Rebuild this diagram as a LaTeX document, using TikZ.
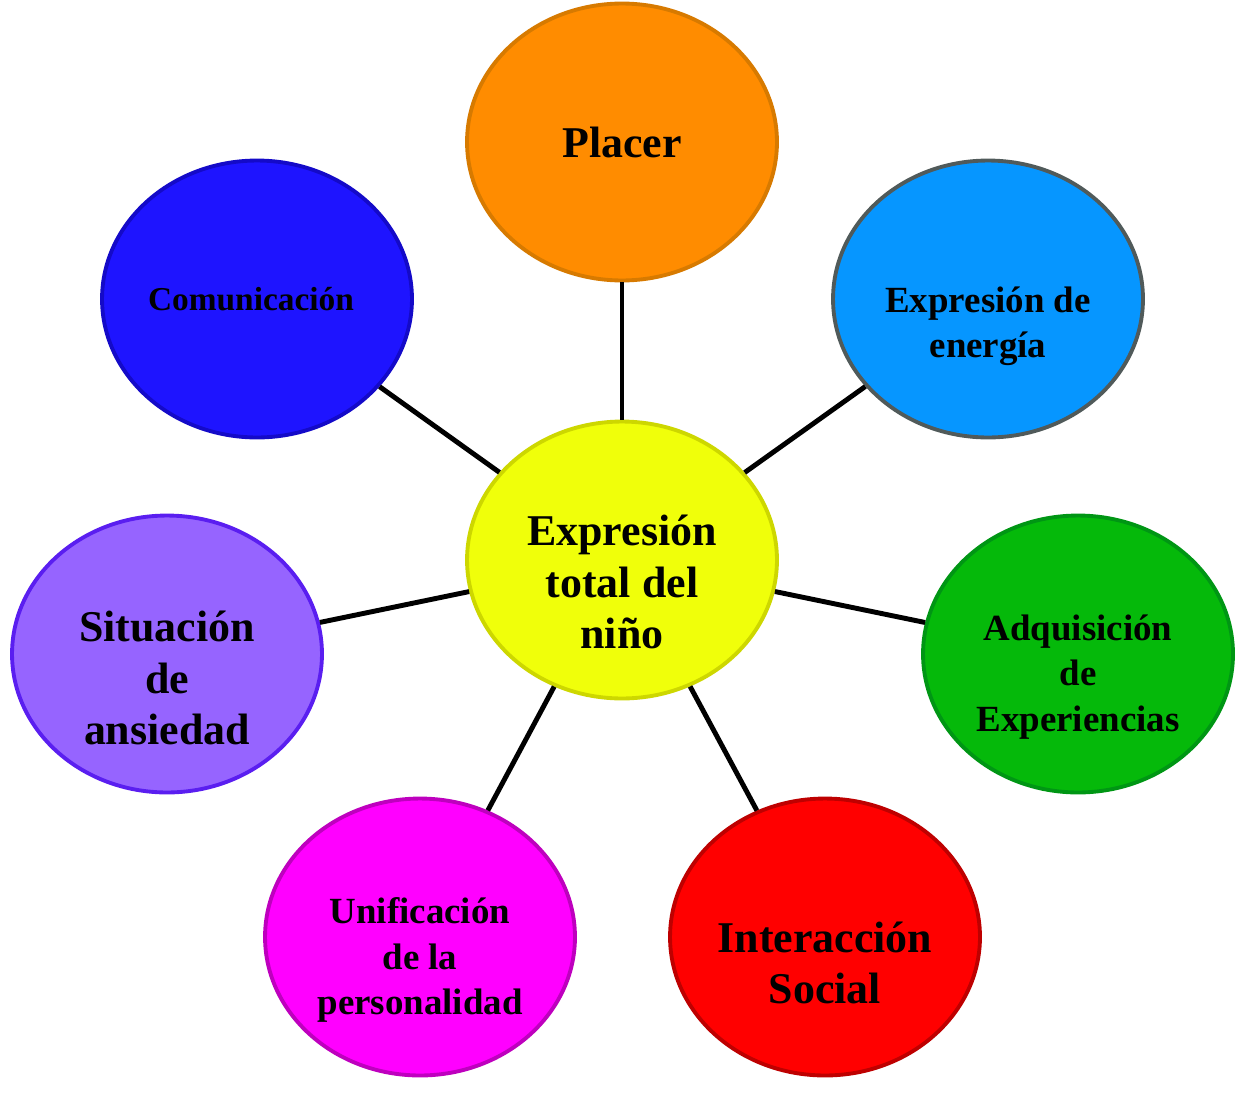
\documentclass[tikz,border=0pt]{standalone}
\usepackage{fontspec}
\setmainfont{Liberation Serif}
\usetikzlibrary{shapes.geometric}

\definecolor{placerfill}{RGB}{255,140,0}
\definecolor{placerline}{RGB}{215,122,0}
\definecolor{energyfill}{RGB}{6,150,255}
\definecolor{energyline}{RGB}{80,90,90}
\definecolor{commfill}{RGB}{30,20,255}
\definecolor{commline}{RGB}{20,10,200}
\definecolor{totalfill}{RGB}{240,255,10}
\definecolor{totalline}{RGB}{205,215,0}
\definecolor{anxfill}{RGB}{150,100,255}
\definecolor{anxline}{RGB}{90,30,240}
\definecolor{expfill}{RGB}{5,185,10}
\definecolor{expline}{RGB}{0,150,20}
\definecolor{unifill}{RGB}{255,0,255}
\definecolor{uniline}{RGB}{190,0,190}
\definecolor{socfill}{RGB}{255,0,0}
\definecolor{socline}{RGB}{190,0,0}

\begin{document}
\begin{tikzpicture}[
        x=0.02cm, y=-0.02cm,
        bubble/.style={ellipse, draw, line width=2.2pt, inner sep=0pt,
            minimum width=6.2cm, minimum height=5.54cm},
        txt/.style={align=center, inner sep=0pt},
        big/.style={font=\fontsize{25}{29.5}\selectfont\bfseries},
        mid/.style={font=\fontsize{21}{25.8}\selectfont\bfseries},
        link/.style={line width=2.8pt, black}
    ]

    \useasboundingbox (0,0) rectangle (1246,1119);

    \node[bubble, fill=totalfill, draw=totalline,
        label={[txt, big, yshift=-0.44cm]center:Expresión\\total del\\niño}] (total) at (622,560) {};
    \node[bubble, fill=placerfill, draw=placerline,
        label={[txt, big]center:Placer}] (placer) at (622,142) {};
    \node[bubble, fill=energyfill, draw=energyline,
        label={[txt, mid, yshift=-0.54cm]center:Expresión de\\energía}] (energy) at (988,299) {};
    \node[bubble, fill=commfill, draw=commline,
        label={[txt, xshift=-0.12cm, font=\fontsize{19}{22}\selectfont\bfseries]center:Comunicación}] (comm) at (257,299) {};
    \node[bubble, fill=anxfill, draw=anxline,
        label={[txt, big, yshift=-0.48cm]center:Situación\\de\\ansiedad}] (anx) at (167,654) {};
    \node[bubble, fill=expfill, draw=expline,
        label={[txt, mid, yshift=-0.46cm]center:Adquisición\\de\\Experiencias}] (exp) at (1078,654) {};
    \node[bubble, fill=unifill, draw=uniline,
        label={[txt, mid, yshift=-0.46cm]center:Unificación\\de la\\personalidad}] (uni) at (420,937) {};
    \node[bubble, fill=socfill, draw=socline,
        label={[txt, big, yshift=-0.52cm]center:Interacción\\Social}] (soc) at (825,937) {};

    \draw[link] (total) -- (placer);
    \draw[link] (total) -- (energy);
    \draw[link] (total) -- (comm);
    \draw[link] (total) -- (anx);
    \draw[link] (total) -- (exp);
    \draw[link] (total) -- (uni);
    \draw[link] (total) -- (soc);
\end{tikzpicture}
\end{document}
